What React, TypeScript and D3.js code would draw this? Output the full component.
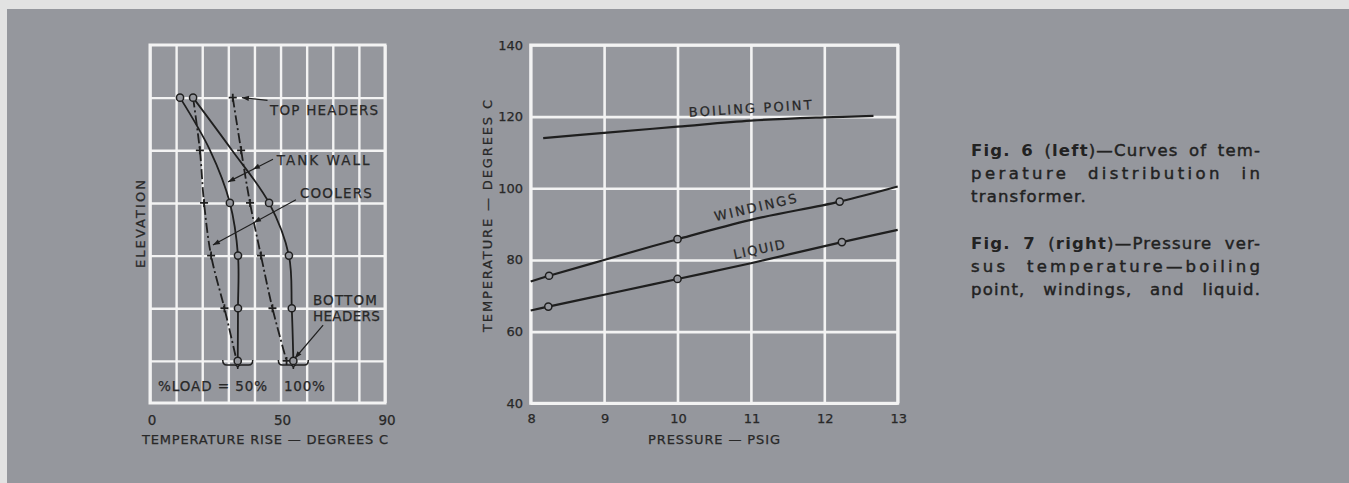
import React, { useEffect, useRef } from 'react';
import * as d3 from 'd3';

// ---- Fig. 6: temperature rise vs elevation (level 0 = bottom headers, 5 = top headers)
const levels = [5, 4, 3, 2, 1, 0];
const tankWall50 = [11.5, 23.0, 30.6, 33.7, 33.7, 33.6];
const tankWall100 = [16.5, 31.4, 45.6, 53.2, 54.3, 54.9];
const coolers50 = [16.5, 19.1, 20.7, 23.4, 28.5, 33.2];
const coolers100 = [31.7, 34.9, 38.3, 42.5, 46.9, 52.3];
const tankWallDots = [0, 2, 3, 4, 5]; // indices drawn with a circle
const coolers50Plus = [1, 2, 3, 4];
const coolers100Plus = [0, 1, 2, 3, 4, 5];
const riseTicks = [0, 50, 90];
const loadLabels = ['%LOAD = 50%', '100%'];

// ---- Fig. 7: temperature vs pressure
const pressureTicks = [8, 9, 10, 11, 12, 13];
const tempTicks = [40, 60, 80, 100, 120, 140];
const boilingP = [8.17, 9, 10, 11, 12, 12.67];
const boilingT = [114.0, 115.5, 117.2, 118.9, 119.8, 120.2];
const windingsP = [8, 8.25, 9, 10, 11, 12.21, 13];
const windingsT = [74.0, 75.6, 80.0, 85.8, 91.2, 96.3, 100.5];
const windingsDots = [1, 3, 5];
const liquidP = [8, 8.24, 9, 10, 11, 12.24, 13];
const liquidT = [65.9, 67.0, 70.3, 74.7, 79.1, 85.0, 88.4];
const liquidDots = [1, 3, 5];

const captions = [
  { text: '**Fig. 6** (**left**)—Curves of tem-', justify: true },
  { text: 'perature distribution in', justify: true },
  { text: 'transformer.', justify: false },
  { text: '**Fig. 7** (**right**)—Pressure ver-', justify: true },
  { text: 'sus temperature—boiling', justify: true },
  { text: 'point, windings, and liquid.', justify: true },
];

const BG = '#95979d';
const INK = '#1f1f1f';
const TXT = '#282828';
const GRID = '#f3f3f3';
const FONT = "'DejaVu Sans', sans-serif";

type Seg = { t: string; b: boolean };

function parseWords(s: string): Seg[][] {
  const words: Seg[][] = [[]];
  s.split('**').forEach((seg, k) => {
    const bold = k % 2 === 1;
    seg.split(' ').forEach((piece, j) => {
      if (j > 0) words.push([]);
      if (piece) words[words.length - 1].push({ t: piece, b: bold });
    });
  });
  return words.filter(w => w.length);
}

export default function App() {
  const ref = useRef<SVGSVGElement>(null);

  useEffect(() => {
    const svg = d3.select(ref.current);
    svg.selectAll('*').remove();

    // page background (light strip at top/left like the scan)
    svg.append('rect').attr('width', 1349).attr('height', 483).attr('fill', '#e2e2e2');
    svg.append('rect').attr('x', 7).attr('y', 9).attr('width', 1342).attr('height', 474).attr('fill', BG);

    const plus = (g: any, x: number, y: number) => {
      g.append('path')
        .attr('d', `M${x - 4},${y}H${x + 4}M${x},${y - 4}V${y + 4}`)
        .attr('stroke', INK).attr('stroke-width', 1.8);
    };
    const dot = (g: any, x: number, y: number) => {
      g.append('circle').attr('cx', x).attr('cy', y).attr('r', 3.6)
        .attr('fill', BG).attr('stroke', INK).attr('stroke-width', 1.5);
    };
    // small arrow head at (x, y) pointing along (dx, dy)
    const head = (g: any, x: number, y: number, dx: number, dy: number) => {
      const a = Math.atan2(dy, dx);
      const l = 7, w = 2.6;
      const bx = x - l * Math.cos(a), by = y - l * Math.sin(a);
      const px = -Math.sin(a) * w, py = Math.cos(a) * w;
      g.append('path')
        .attr('d', `M${x},${y}L${bx + px},${by + py}L${bx - px},${by - py}Z`)
        .attr('fill', INK);
    };
    const txt = (g: any) =>
      g.append('text').attr('font-family', FONT).attr('fill', TXT)
        .attr('stroke', TXT).attr('stroke-width', 0.25);

    // ================= Fig. 6 =================
    const x6 = d3.scaleLinear().domain([0, 90]).range([150, 385]);
    const y6 = d3.scaleLinear().domain([-0.8, 6]).range([403, 45]);
    const g6 = svg.append('g');

    g6.append('g')
      .attr('transform', `translate(0,${y6(-0.8)})`)
      .call(d3.axisBottom(x6).tickValues(d3.range(0, 91, 10)).tickSize(-(y6(-0.8) - y6(6))).tickFormat(() => ''))
      .call(g => g.select('.domain').remove())
      .call(g => g.selectAll('line').attr('stroke', GRID).attr('stroke-width', 2.4));
    g6.append('g')
      .attr('transform', `translate(${x6(0)},0)`)
      .call(d3.axisLeft(y6).tickValues([0, 1, 2, 3, 4, 5]).tickSize(-(x6(90) - x6(0))).tickFormat(() => ''))
      .call(g => g.select('.domain').remove())
      .call(g => g.selectAll('line').attr('stroke', GRID).attr('stroke-width', 2.4));
    g6.append('rect')
      .attr('x', x6(0)).attr('y', y6(6)).attr('width', x6(90) - x6(0)).attr('height', y6(-0.8) - y6(6))
      .attr('fill', 'none').attr('stroke', GRID).attr('stroke-width', 3);

    const curve6 = (vals: number[]) =>
      d3.line<number>()
        .x(d => x6(d))
        .y((d, i) => y6(levels[i]))
        .curve(d3.curveCatmullRom.alpha(0.5))(vals);

    [tankWall50, tankWall100].forEach(s => {
      g6.append('path').attr('d', curve6(s)).attr('fill', 'none').attr('stroke', INK).attr('stroke-width', 1.8);
    });
    [coolers50, coolers100].forEach(s => {
      g6.append('path').attr('d', curve6(s)).attr('fill', 'none').attr('stroke', INK)
        .attr('stroke-width', 1.8).attr('stroke-dasharray', '10,3,2,3');
    });
    coolers50Plus.forEach(i => plus(g6, x6(coolers50[i]), y6(levels[i])));
    coolers100Plus.forEach(i => plus(g6, x6(coolers100[i]), y6(levels[i])));
    tankWallDots.forEach(i => {
      dot(g6, x6(tankWall50[i]), y6(levels[i]));
      dot(g6, x6(tankWall100[i]), y6(levels[i]));
    });

    // brackets under the bottom headers
    [tankWall50, tankWall100].forEach(s => {
      const c = x6(s[s.length - 1]);
      const yb = y6(0) + 4;
      const h = 15;
      g6.append('path')
        .attr('d', `M${c - h},${yb - 5}Q${c - h},${yb} ${c - h + 4},${yb}L${c - 3},${yb}Q${c},${yb} ${c},${yb + 4}Q${c},${yb} ${c + 3},${yb}L${c + h - 4},${yb}Q${c + h},${yb} ${c + h},${yb - 5}`)
        .attr('fill', 'none').attr('stroke', INK).attr('stroke-width', 1.5);
    });

    const label6 = (t: string, d: number, lvl: number, len: number) =>
      txt(g6).attr('x', x6(d)).attr('y', y6(lvl) + 5)
        .attr('textLength', len).attr('lengthAdjust', 'spacing')
        .attr('font-size', 13.5).text(t);

    label6('TOP HEADERS', 46.0, 4.77, 108);
    label6('TANK WALL', 48.5, 3.82, 93);
    label6('COOLERS', 57.4, 3.18, 72);
    label6('BOTTOM', 62.4, 1.16, 64);
    label6('HEADERS', 62.4, 0.85, 67);
    label6(loadLabels[0], 3.1, -0.48, 109);
    label6(loadLabels[1], 51.3, -0.48, 41);

    const pointer = (a: number[], b: number[], mid?: number[]) => {
      g6.append('line').attr('x1', x6(a[0])).attr('y1', y6(a[1])).attr('x2', x6(b[0])).attr('y2', y6(b[1]))
        .attr('stroke', INK).attr('stroke-width', 1.2);
      const dx = x6(b[0]) - x6(a[0]), dy = y6(b[1]) - y6(a[1]);
      head(g6, x6(b[0]), y6(b[1]), dx, dy);
      if (mid) head(g6, x6(mid[0]), y6(mid[1]), dx, dy);
    };
    pointer([45.0, 4.95], [35.2, 5.0]);
    pointer([47.1, 3.83], [29.9, 3.40], [39.4, 3.64]);
    pointer([55.9, 3.06], [24.1, 2.20], [39.8, 2.63]);
    pointer([66.3, 0.68], [55.5, 0.05]);

    riseTicks.forEach(v => {
      txt(g6).attr('x', x6(v) + 2).attr('y', 425).attr('text-anchor', 'middle')
        .attr('font-size', 13.5).text(v);
    });
    txt(g6).attr('x', 142).attr('y', 444).attr('textLength', 246).attr('lengthAdjust', 'spacing')
      .attr('font-size', 13).text('TEMPERATURE RISE — DEGREES C');
    txt(g6).attr('transform', 'translate(145,224) rotate(-90)').attr('text-anchor', 'middle')
      .attr('textLength', 88).attr('lengthAdjust', 'spacing')
      .attr('font-size', 13).text('ELEVATION');

    // ================= Fig. 7 =================
    const x7 = d3.scaleLinear().domain([8, 13]).range([530.7, 897.7]);
    const y7 = d3.scaleLinear().domain([40, 140]).range([403.3, 45]);
    const g7 = svg.append('g');

    g7.append('g')
      .attr('transform', `translate(0,${y7(40)})`)
      .call(d3.axisBottom(x7).tickValues(pressureTicks).tickSize(-(y7(40) - y7(140))).tickFormat(() => ''))
      .call(g => g.select('.domain').remove())
      .call(g => g.selectAll('line').attr('stroke', GRID).attr('stroke-width', 2.6));
    g7.append('g')
      .attr('transform', `translate(${x7(8)},0)`)
      .call(d3.axisLeft(y7).tickValues(tempTicks).tickSize(-(x7(13) - x7(8))).tickFormat(() => ''))
      .call(g => g.select('.domain').remove())
      .call(g => g.selectAll('line').attr('stroke', GRID).attr('stroke-width', 2.6));
    g7.append('rect')
      .attr('x', x7(8)).attr('y', y7(140)).attr('width', x7(13) - x7(8)).attr('height', y7(40) - y7(140))
      .attr('fill', 'none').attr('stroke', GRID).attr('stroke-width', 3);

    const curve7 = (ps: number[], ts: number[]) =>
      d3.line<number>()
        .x(d => x7(d))
        .y((d, i) => y7(ts[i]))
        .curve(d3.curveCatmullRom.alpha(0.5))(ps);

    g7.append('path').attr('d', curve7(boilingP, boilingT)).attr('fill', 'none').attr('stroke', INK).attr('stroke-width', 2.2);
    g7.append('path').attr('d', curve7(windingsP, windingsT)).attr('fill', 'none').attr('stroke', INK).attr('stroke-width', 2.2);
    g7.append('path').attr('d', curve7(liquidP, liquidT)).attr('fill', 'none').attr('stroke', INK).attr('stroke-width', 2.2);
    windingsDots.forEach(i => dot(g7, x7(windingsP[i]), y7(windingsT[i])));
    liquidDots.forEach(i => dot(g7, x7(liquidP[i]), y7(liquidT[i])));

    const label7 = (t: string, p: number, T: number, rot: number, len: number) =>
      txt(g7).attr('transform', `translate(${x7(p)},${y7(T)}) rotate(${rot})`)
        .attr('y', 5).attr('text-anchor', 'middle').attr('textLength', len).attr('lengthAdjust', 'spacing')
        .attr('font-size', 13).text(t);
    label7('BOILING POINT', 10.99, 122.4, -3.5, 123);
    label7('WINDINGS', 11.06, 94.8, -13, 84);
    label7('LIQUID', 11.11, 83.1, -12, 52);

    tempTicks.forEach(v => {
      txt(g7).attr('x', 523).attr('y', y7(v) + 4.5).attr('text-anchor', 'end')
        .attr('font-size', 13).text(v);
    });
    pressureTicks.forEach(v => {
      txt(g7).attr('x', x7(v) + 1).attr('y', 423).attr('text-anchor', 'middle')
        .attr('font-size', 13).text(v);
    });
    txt(g7).attr('x', 648).attr('y', 444).attr('textLength', 132).attr('lengthAdjust', 'spacing')
      .attr('font-size', 13).text('PRESSURE — PSIG');
    txt(g7).attr('transform', 'translate(492,216) rotate(-90)').attr('text-anchor', 'middle')
      .attr('textLength', 232).attr('lengthAdjust', 'spacing')
      .attr('font-size', 13).text('TEMPERATURE — DEGREES C');

    // ================= captions (justified) =================
    const capX = 971, capW = 289, baseLs = 1.2, maxGap = 22;
    const baselines = [156, 179, 202, 249, 272, 295];
    const gc = svg.append('g').attr('font-family', FONT)
      .attr('font-size', 16.5).attr('fill', '#222');
    captions.forEach((line, li) => {
      const words = parseWords(line.text);
      const nodes = words.map(w => {
        const t = gc.append('text').attr('y', baselines[li]);
        w.forEach(s => {
          const sp = t.append('tspan').attr('font-weight', s.b ? 700 : 400).text(s.t);
          if (!s.b) sp.attr('stroke', '#222').attr('stroke-width', 0.45);
        });
        return t;
      });
      const w0 = nodes.map(n => (n.node() as SVGTextElement).getComputedTextLength());
      const chars = words.map(w => d3.sum(w, s => s.t.length) - 1);
      const n = words.length;
      let ls = baseLs;
      let gap = 6;
      if (line.justify && n > 1) {
        gap = (capW - d3.sum(w0) - ls * d3.sum(chars)) / (n - 1);
        if (gap > maxGap) {
          gap = maxGap;
          ls = (capW - d3.sum(w0) - gap * (n - 1)) / d3.sum(chars);
        }
      }
      let cx = capX;
      nodes.forEach((node, i) => {
        node.attr('x', cx).attr('letter-spacing', ls);
        cx += w0[i] + ls * chars[i] + gap;
      });
    });
  }, []);

  return (
    <div>
      <style>{'body { margin: 0; }'}</style>
      <svg ref={ref} width={1349} height={483} style={{ display: 'block' }} />
    </div>
  );
}
